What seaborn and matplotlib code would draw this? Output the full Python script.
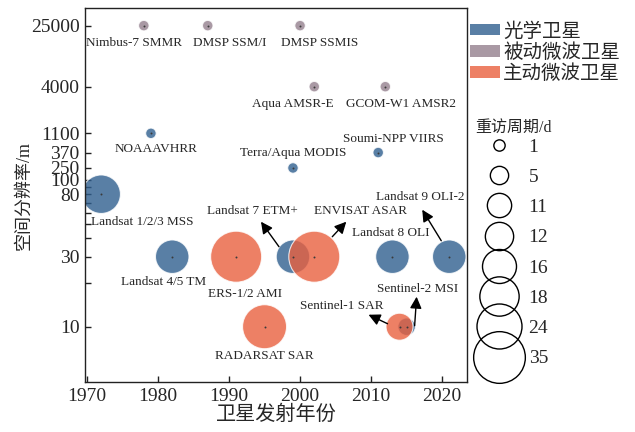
import numpy as np
import pandas as pd
import matplotlib.pyplot as plt
import seaborn as sns
from matplotlib.patches import Patch
from matplotlib.lines import Line2D
from matplotlib.text import OffsetFrom

# ==========================================
# DATA
# ==========================================
names = ["Landsat 1/2/3 MSS", "NOAAAVHRR", "Landsat 4/5 TM", "Landsat 7 ETM+",
         "Terra/Aqua MODIS", "Soumi-NPP VIIRS", "Landsat 8 OLI", "Sentinel-2 MSI",
         "Landsat 9 OLI-2",
         "Nimbus-7 SMMR", "DMSP SSM/I", "DMSP SSMIS", "Aqua AMSR-E", "GCOM-W1 AMSR2",
         "ERS-1/2 AMI", "RADARSAT SAR", "ENVISAT ASAR", "Sentinel-1 SAR"]
years = [1972, 1979, 1982, 1999, 1999, 2011, 2013, 2015, 2021,
         1978, 1987, 2000, 2002, 2012,
         1991, 1995, 2002, 2014]
resolution = [80, 1100, 30, 30, 250, 370, 30, 10, 30,
              25000, 25000, 25000, 4000, 4000,
              30, 10, 30, 10]
revisit = [18, 1, 16, 16, 1, 1, 16, 5, 16,
           1, 1, 1, 1, 1,
           35, 24, 35, 12]
kind = ["光学卫星"] * 9 + ["被动微波卫星"] * 5 + ["主动微波卫星"] * 4

type_order = ["光学卫星", "被动微波卫星", "主动微波卫星"]
revisit_levels = [1, 5, 11, 12, 16, 18, 24, 35]
y_ticks = [10, 30, 80, 100, 250, 370, 1100, 4000, 25000]
y_minor = [20, 40, 50, 60, 70, 90]
x_ticks = [1970, 1980, 1990, 2000, 2010, 2020]

df = pd.DataFrame({"name": names, "year": years, "res": resolution,
                   "revisit": revisit, "kind": kind})

# ==========================================
# STYLE
# ==========================================
colors = {"光学卫星": "#2f5f8f", "被动微波卫星": "#94808e", "主动微波卫星": "#e9603f"}
# bubble diameter in pixels for each revisit period
diam_px = {1: 10.5, 5: 17.5, 11: 23.5, 12: 27, 16: 33.5, 18: 38.5, 24: 44, 35: 51}
sizes = {k: (v * 0.72) ** 2 for k, v in diam_px.items()}

# label offsets (pixels) from bubble centre
label_off = {
    "Nimbus-7 SMMR": (-10, -17), "DMSP SSM/I": (22, -17), "DMSP SSMIS": (20, -17),
    "Aqua AMSR-E": (-21, -17), "GCOM-W1 AMSR2": (16, -17), "NOAAAVHRR": (5, -16),
    "Terra/Aqua MODIS": (0, 15), "Soumi-NPP VIIRS": (15, 14),
    "Landsat 1/2/3 MSS": (41, -28), "Landsat 4/5 TM": (-9, -25),
    "ERS-1/2 AMI": (9, -37), "RADARSAT SAR": (0, -29), "Landsat 8 OLI": (-2, 24),
    "Landsat 7 ETM+": (-41, 46), "ENVISAT ASAR": (46, 46), "Landsat 9 OLI-2": (-29, 60),
    "Sentinel-1 SAR": (-58, 21), "Sentinel-2 MSI": (11, 38),
}
# arrows: (tail offset, head offset) in pixels
arrow_off = {
    "Landsat 7 ETM+": ((-14, 10), (-32, 35)),
    "ENVISAT ASAR": ((18, 20), (32, 35)),
    "Landsat 9 OLI-2": ((-8, 16), (-27, 47)),
    "Sentinel-1 SAR": ((-12, 3), (-31, 12)),
    "Sentinel-2 MSI": ((8, 1), (10, 30)),
}

# custom y axis: log below 100, squeezed above
LOGS = [0, 1, 2, np.log10(250), np.log10(370), np.log10(1100),
        np.log10(4000), np.log10(25000), 5]
POS = [0, 1, 2, 2.082, 2.187, 2.318, 2.636, 3.052, 3.366]


def fwd(v):
    v = np.clip(np.asarray(v, dtype=float), 1e-3, None)
    return np.interp(np.log10(v), LOGS, POS)


def inv(u):
    return 10 ** np.interp(np.asarray(u, dtype=float), POS, LOGS)


sns.set_style("ticks")
plt.rcParams["font.family"] = ["Liberation Serif", "Noto Sans CJK SC"]

fig, ax = plt.subplots(figsize=(6.35, 4.32), dpi=100)
fig.subplots_adjust(left=85 / 635, right=467 / 635, bottom=1 - 382 / 432, top=1 - 8 / 432)

ax.set_yscale("function", functions=(fwd, inv))

sns.scatterplot(data=df, x="year", y="res", hue="kind", hue_order=type_order,
                palette=colors, size="revisit", sizes=sizes, alpha=0.8,
                edgecolor="white", linewidth=0.8, legend=False, ax=ax, zorder=2)
sns.scatterplot(data=df, x="year", y="res", color="#3a3a3a", s=2, linewidth=0,
                legend=False, ax=ax, zorder=3)

for _, r in df.iterrows():
    ax.annotate(r["name"], xy=(r["year"], r["res"]), xytext=label_off[r["name"]],
                textcoords="offset pixels", ha="center", va="center", fontsize=9.5)
    if r["name"] in arrow_off:
        tail, head = arrow_off[r["name"]]
        ref = OffsetFrom(ax.transData, (r["year"], r["res"]), unit="pixels")
        ax.annotate("", xy=head, xycoords=ref, xytext=tail, textcoords=ref,
                    arrowprops=dict(arrowstyle="-|>,head_length=0.7,head_width=0.35",
                                    color="black", lw=1, shrinkA=0, shrinkB=0))

ax.set_xlim(1969.72, 2023.5)
ax.set_ylim(4.2, 42500)
ax.set_xticks(x_ticks)
ax.set_yticks(y_ticks, labels=[str(t) for t in y_ticks])
ax.set_yticks(y_minor, minor=True)
ax.tick_params(axis="both", which="both", direction="in", length=4, width=1,
               color="#222222", labelsize=14, pad=4)
ax.tick_params(axis="y", which="minor", labelleft=False)
for s in ax.spines.values():
    s.set_color("#222222")
    s.set_linewidth(1)

ax.set_xlabel("卫星发射年份", fontsize=14.5, labelpad=1)
ax.set_ylabel("空间分辨率/m", fontsize=13, labelpad=-1)

# legends
type_handles = [Patch(facecolor=colors[k], alpha=0.8, edgecolor="none") for k in type_order]
leg1 = fig.legend(type_handles, type_order, loc="upper left",
                  bbox_to_anchor=(470 / 635, 1 - 22 / 432), frameon=False, fontsize=14,
                  handlelength=1.55, handleheight=0.55, handletextpad=0.15,
                  labelspacing=0.12, borderpad=0, borderaxespad=0)

legend_diam = {1: 11.3, 5: 18.3, 11: 24.3, 12: 28.3, 16: 34, 18: 39.3, 24: 45, 35: 51.7}
size_handles = [Line2D([], [], marker="o", linestyle="", markersize=legend_diam[v] * 0.72,
                       markerfacecolor="none", markeredgecolor="black", markeredgewidth=1)
                for v in revisit_levels]
leg2 = fig.legend(size_handles, [str(v) for v in revisit_levels], loc="upper left",
                  bbox_to_anchor=(480 / 635, 1 - 138 / 432), frameon=False, fontsize=14,
                  handlelength=2.0, handletextpad=0.5, labelspacing=0.65,
                  borderpad=0, borderaxespad=0)
fig.text(475 / 635, 1 - 128 / 432, "重访周期/d", fontsize=11.5, ha="left", va="center")

fig.savefig("out.png", dpi=100)
